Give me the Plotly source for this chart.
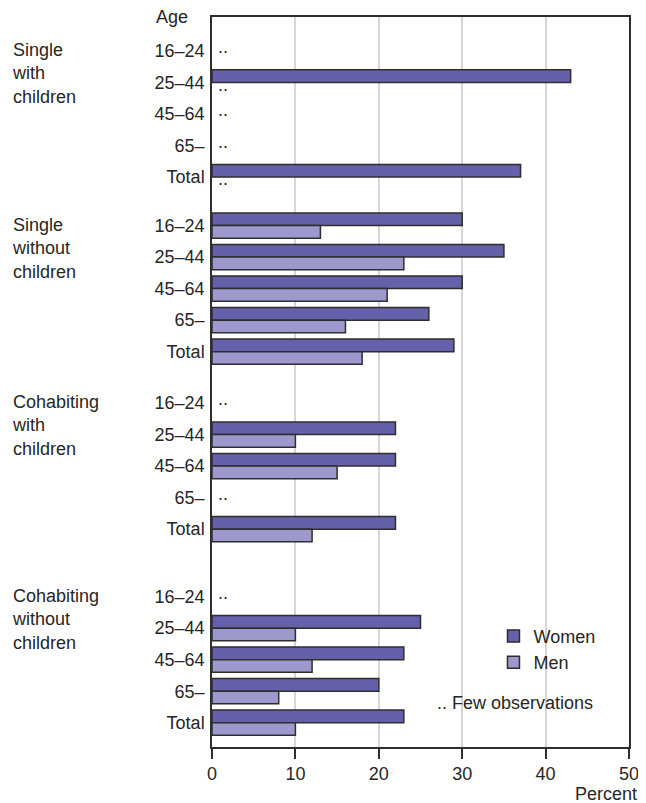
import plotly.graph_objects as go

# ---------------- data ----------------
groups = ["Single<br>with<br>children", "Single<br>without<br>children",
          "Cohabiting<br>with<br>children", "Cohabiting<br>without<br>children"]
ages = ["16–24", "25–44", "45–64", "65–", "Total"]
women = [
    [None, 43, None, None, 37],
    [30, 35, 30, 26, 29],
    [None, 22, 22, None, 22],
    [None, 25, 23, 20, 23],
]
men = [
    [None, None, None, None, None],
    [13, 23, 21, 16, 18],
    [None, 10, 15, None, 12],
    [None, 10, 12, 8, 10],
]
x_ticks = [0, 10, 20, 30, 40, 50]

# ---------------- layout constants ----------------
GROUP_START = [0, 5.54, 11.17, 17.31]   # row position of each group's first row
BAR_W = 0.4
WOMEN_C = "#6461aa"
MEN_C = "#9d99cc"
EDGE = "#2e2e2e"
TXT = "#262626"
FONT = "Liberation Sans, Arial, sans-serif"
FS = 18

ypos, yt, wv, mv = [], [], [], []
for g, start in enumerate(GROUP_START):
    for i, a in enumerate(ages):
        ypos.append(start + i)
        yt.append(a)
        wv.append(women[g][i])
        mv.append(men[g][i])

fig = go.Figure()
fig.add_trace(go.Bar(name="Women", orientation="h", y=ypos, x=wv, width=BAR_W, offset=-BAR_W,
                     marker=dict(color=WOMEN_C, line=dict(color=EDGE, width=1.5)),
                     hoverinfo="x+name"))
fig.add_trace(go.Bar(name="Men", orientation="h", y=ypos, x=mv, width=BAR_W, offset=0,
                     marker=dict(color=MEN_C, line=dict(color=EDGE, width=1.5)),
                     hoverinfo="x+name"))

annotations = []
# ".." markers for few observations
for y, w, m in zip(ypos, wv, mv):
    if w is None and m is None:
        annotations.append(dict(x=0, y=y, xref="x", yref="y", text="..", showarrow=False,
                                xanchor="left", yanchor="middle", xshift=4, yshift=4,
                                font=dict(size=FS, color=TXT, family=FONT)))
    elif m is None:
        annotations.append(dict(x=0, y=y + BAR_W / 2, xref="x", yref="y", text="..", showarrow=False,
                                xanchor="left", yanchor="middle", xshift=4, yshift=4,
                                font=dict(size=FS, color=TXT, family=FONT)))

# group labels
for g, start in enumerate(GROUP_START):
    annotations.append(dict(x=-0.474, y=start, xref="paper", yref="y", text=groups[g],
                            showarrow=False, xanchor="left", yanchor="top", align="left",
                            xshift=-4, yshift=13, font=dict(size=FS, color=TXT, family=FONT)))

annotations.append(dict(x=-0.0524, y=1, xref="paper", yref="paper", text="Age", showarrow=False,
                        xanchor="right", yanchor="middle", font=dict(size=FS, color=TXT, family=FONT)))
annotations.append(dict(x=1.0238, y=0, xref="paper", yref="paper", text="Percent", showarrow=False,
                        xanchor="right", yanchor="middle", yshift=-47,
                        font=dict(size=FS, color=TXT, family=FONT)))
annotations.append(dict(x=0.5357, y=0.0601, xref="paper", yref="paper", text=".. Few observations",
                        showarrow=False, xanchor="left", yanchor="middle",
                        font=dict(size=FS, color=TXT, family=FONT)))

fig.update_layout(
    width=638, height=800,
    margin=dict(l=204, r=14, t=7, b=61),
    paper_bgcolor="white", plot_bgcolor="white",
    barmode="overlay",
    font=dict(family=FONT, size=FS, color=TXT),
    showlegend=True,
    legend=dict(x=0.675, y=0.134, xanchor="left", yanchor="middle",
                bgcolor="rgba(0,0,0,0)", font=dict(size=FS, color=TXT, family=FONT),
                tracegroupgap=0, itemwidth=30),
    annotations=annotations,
)
fig.update_xaxes(range=[0, 50], tickvals=x_ticks, ticks="outside", ticklen=10, tickwidth=1.5,
                 tickcolor=EDGE, showline=True, linecolor=EDGE, linewidth=1.5, mirror=True,
                 showgrid=True, gridcolor="#d6d6d6", gridwidth=1.5, zeroline=False,
                 tickfont=dict(size=FS, color=TXT, family=FONT))
fig.update_yaxes(range=[22.08, -1.076], tickvals=ypos, ticktext=yt, ticks="",
                 showline=True, linecolor=EDGE, linewidth=1.5, mirror=True,
                 showgrid=False, zeroline=False, ticklabelstandoff=2,
                 tickfont=dict(size=FS, color=TXT, family=FONT))

fig.write_html("out.html")
